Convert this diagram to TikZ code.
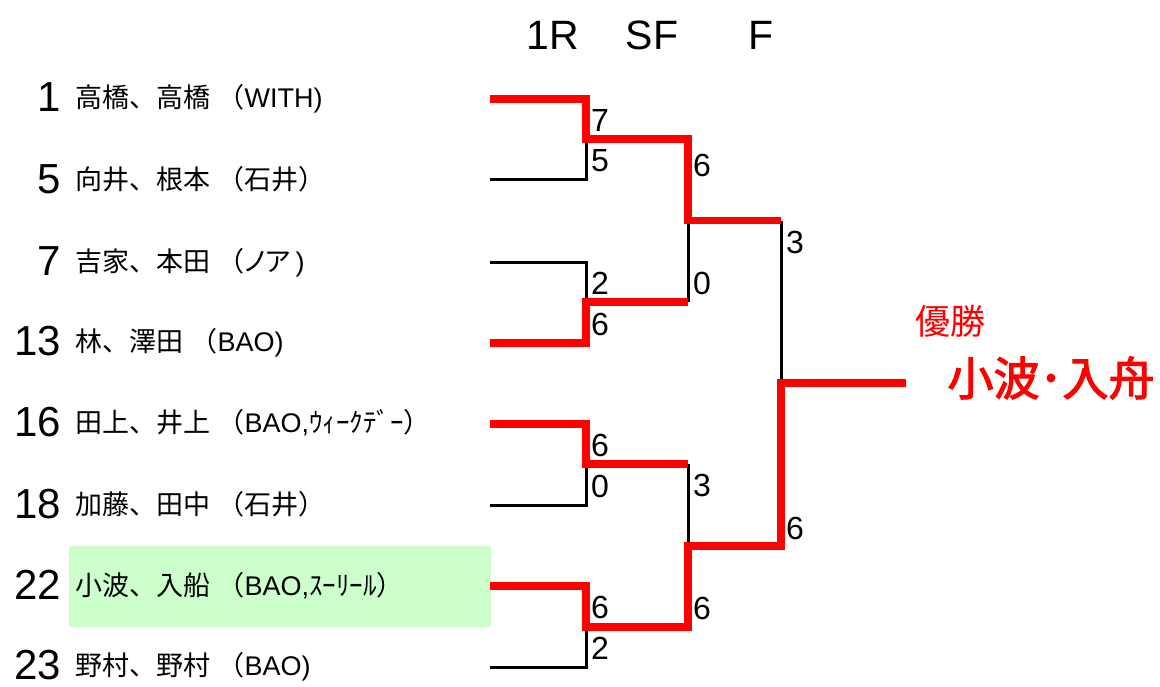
\documentclass[tikz,border=0pt]{standalone}
\usepackage{fontspec}
\setmainfont{Liberation Sans}
\newfontfamily\cjk{Noto Sans CJK JP}
\newfontfamily\cjkp{Noto Sans CJK JP}[RawFeature=+palt]
\newfontfamily\cjkfb{Noto Sans CJK JP}[FakeBold=2.5]
\definecolor{hlgreen}{RGB}{204,255,204}
\begin{document}
\begin{tikzpicture}[x=1pt,y=-1pt,
  seed/.style={anchor=east,inner sep=0,font=\fontsize{42}{42}\selectfont},
  pname/.style={anchor=base west,inner sep=0,font=\fontsize{27}{27}\selectfont},
  score/.style={anchor=base west,inner sep=0,font=\fontsize{32}{32}\selectfont},
  hdr/.style={anchor=base,inner sep=0,font=\fontsize{41}{41}\selectfont},
  lose/.style={draw=black,line width=3pt},
  win/.style={draw=red,line width=7.5pt,line join=miter},
  champtxt/.style={text=red,inner sep=0}
]
\useasboundingbox (0,0) rectangle (1160,686);
% highlight
\node (hl) [fill=hlgreen,anchor=north west,inner sep=0,minimum width=422pt,minimum height=81pt] at (69,546) {};
% coordinates
\coordinate (s1) at (490,99);  \coordinate (c1) at (586,99);
\coordinate (s2) at (490,179); \coordinate (c2) at (586,179);
\coordinate (s3) at (490,262); \coordinate (c3) at (586,262);
\coordinate (s4) at (490,343); \coordinate (c4) at (586,343);
\coordinate (s5) at (490,424); \coordinate (c5) at (586,424);
\coordinate (s6) at (490,505); \coordinate (c6) at (586,505);
\coordinate (s7) at (490,586); \coordinate (c7) at (586,586);
\coordinate (s8) at (490,667); \coordinate (c8) at (586,667);
\coordinate (m1) at (586,139); \coordinate (m2) at (586,302);
\coordinate (m3) at (586,464); \coordinate (m4) at (586,627);
\coordinate (t1) at (688,139); \coordinate (b1) at (688,302); \coordinate (sm1) at (688,220.5);
\coordinate (t2) at (688,464); \coordinate (b2) at (688,627); \coordinate (sm2) at (688,546);
\coordinate (ft) at (781,220.5); \coordinate (fb) at (781,546); \coordinate (fm) at (781,383);
\coordinate (w) at (906,383);
% losing lines
\draw[lose] (s2) -- (c2) -- (m1);
\draw[lose] (s3) -- (c3) -- (m2);
\draw[lose] (b1) -- (sm1);
\draw[lose] (ft) -- (fm);
\draw[lose] (s6) -- (c6) -- (m3);
\draw[lose] (t2) -- (sm2);
\draw[lose] (s8) -- (c8) -- (m4);
% winning lines
\draw[win] (s1) -- (c1) -- (m1) -- (t1) -- (sm1) -- (ft);
\draw[win] (s4) -- (c4) -- (m2) -- (b1);
\draw[win] (s5) -- (c5) -- (m3) -- (t2);
\draw[win] (s7) -- (c7) -- (m4) -- (b2) -- (sm2) -- (fb) -- (fm) -- (w);
% headers
\node[hdr] (h1) at (553,49) {1R};
\node[hdr] (h2) at (652,49) {SF};
\node[hdr] (h3) at (761,49) {F};
% seeds
\node[seed] (n1) at (61,97) {1};
\node[seed] (n2) at (61,179) {5};
\node[seed] (n3) at (61,261) {7};
\node[seed] (n4) at (61,341) {13};
\node[seed] (n5) at (61,422) {16};
\node[seed] (n6) at (61,504) {18};
\node[seed] (n7) at (61,585) {22};
\node[seed] (n8) at (61,665) {23};
% names
\node[pname] (p1) at (75,107) {{\cjk 高橋、高橋} {\cjk （}WITH)};
\node[pname] (p2) at (75,189) {{\cjk 向井、根本} {\cjk （石井）}};
\node[pname] (p3) at (75,271) {{\cjk 吉家、本田} {\cjk （}{\cjkp ノア}\,)};
\node[pname] (p4) at (75,351) {{\cjk 林、澤田} {\cjk （}BAO)};
\node[pname] (p5) at (75,432) {{\cjk 田上、井上} {\cjk （}BAO,{\cjk ｳｨｰｸﾃﾞｰ）}};
\node[pname] (p6) at (75,514) {{\cjk 加藤、田中} {\cjk （石井）}};
\node[pname] (p7) at (75,595) {{\cjk 小波、入船} {\cjk （}BAO,{\cjk ｽｰﾘｰﾙ）}};
\node[pname] (p8) at (75,675) {{\cjk 野村、野村} {\cjk （}BAO)};
% scores
\node[score] (r1a) at ([shift={(5,32)}]c1) {7};
\node[score] (r1b) at ([shift={(5,-8)}]c2) {5};
\node[score] (r2a) at ([shift={(5,32)}]c3) {2};
\node[score] (r2b) at ([shift={(5,-8)}]c4) {6};
\node[score] (r3a) at ([shift={(5,32)}]c5) {6};
\node[score] (r3b) at ([shift={(5,-8)}]c6) {0};
\node[score] (r4a) at ([shift={(5,32)}]c7) {6};
\node[score] (r4b) at ([shift={(5,-8)}]c8) {2};
\node[score] (sf1a) at ([shift={(5,37)}]t1) {6};
\node[score] (sf1b) at ([shift={(5,-8)}]b1) {0};
\node[score] (sf2a) at ([shift={(5,32)}]t2) {3};
\node[score] (sf2b) at ([shift={(5,-8)}]b2) {6};
\node[score] (fa) at ([shift={(5,33)}]ft) {3};
\node[score] (fbs) at ([shift={(5,-7)}]fb) {6};
% champion
\node[champtxt,font=\cjk\fontsize{35}{35}\selectfont] (yusho) at (950,321) {優勝};
\node[champtxt,font=\cjkfb\fontsize{46}{46}\selectfont] (champ) at (1051,378) {小波･入舟};
\end{tikzpicture}
\end{document}
